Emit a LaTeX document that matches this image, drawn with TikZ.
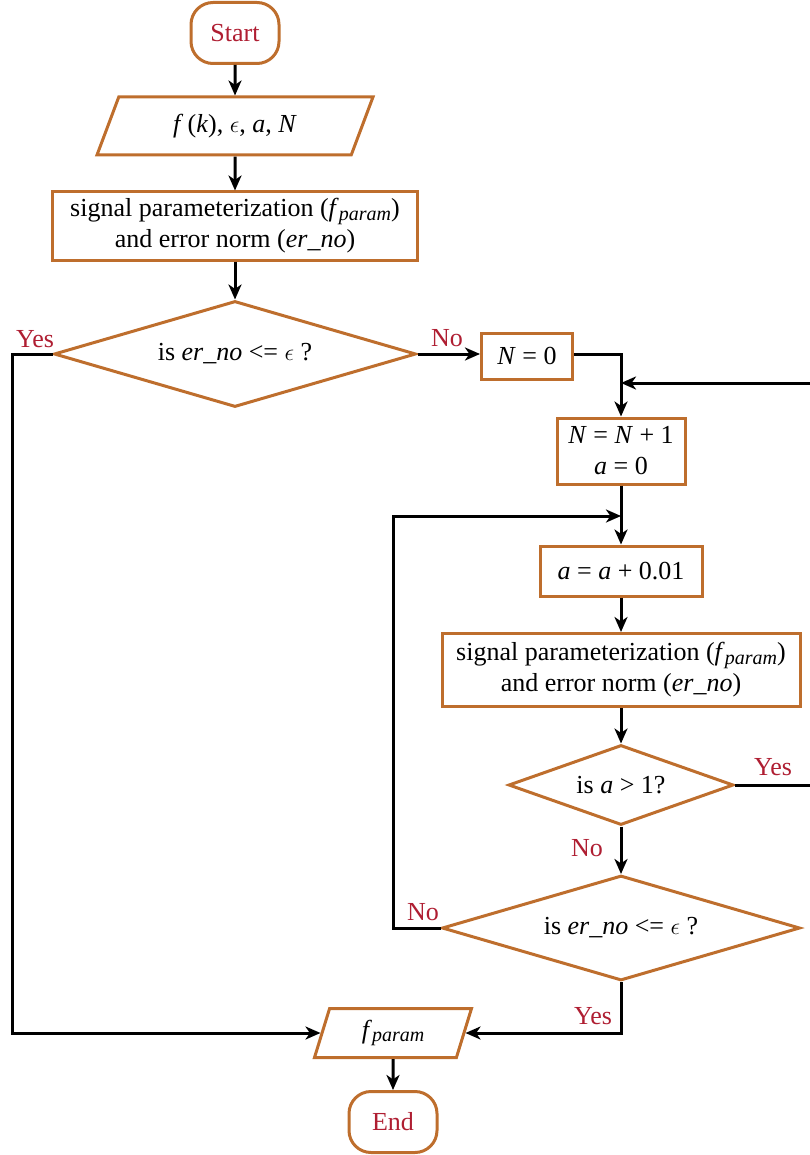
\documentclass[tikz,border=0pt]{standalone}
\usepackage{fontspec}
\setmainfont{Liberation Serif}
\usepackage{tikz}
\usetikzlibrary{calc}
\usetikzlibrary{arrows,arrows.meta}
\usetikzlibrary{shapes}

\definecolor{boxcol}{RGB}{190,110,45}
\definecolor{labelcol}{RGB}{175,30,50}
\newcommand{\erno}{\textit{er\_no}}
\newcommand{\fpar}{\textit{f}\raisebox{-0.3ex}{\fontsize{10}{12}\selectfont\textit{param}}}

\begin{document}
\begin{tikzpicture}[>={Stealth[length=7.5pt,width=6.5pt,inset=2.2pt]},line join=miter,x=0.5pt,y=-0.5pt,
    every node/.style={font=\fontsize{13}{15.5}\selectfont},
    terminal/.style={draw=boxcol,line width=1.5pt,rounded corners=11pt,minimum width=44pt,minimum height=30.5pt,text=labelcol,inner sep=0pt},
    procbox/.style={draw=boxcol,line width=1.5pt,rectangle,align=center,inner sep=0pt},
    iobox/.style={draw=boxcol,line width=1.5pt,trapezium,trapezium stretches body,inner sep=0pt},
    decbox/.style={draw=boxcol,line width=1.5pt,diamond,aspect=3.4,inner sep=0pt},
    flow/.style={draw=black,line width=1.5pt},
    answer/.style={text=labelcol}]
    \useasboundingbox (0,0) rectangle (809,1155);
    %%
    % Node: start
    \node[terminal] (start) at (235,33) {Start};
    % Node: input
    \node[iobox,trapezium left angle=47.6,trapezium right angle=132.4,minimum width=138pt,minimum height=29pt] (input) at (235,126)
        {\textit{f}\,(\textit{k}), $\epsilon$, \textit{a}, \textit{N}};
    % Node: param1
    \node[procbox,minimum width=182.5pt,minimum height=34pt] (param1) at (235,226)
        {signal parameterization (\fpar)\\and error norm (\erno)};
    % Node: check1
    \node[decbox,minimum width=181pt,minimum height=53pt] (check1) at (235,354) {is \erno{} <= $\epsilon$ ?};
    % Node: nzero
    \node[procbox,minimum width=45.5pt,minimum height=23pt] (nzero) at (527,356) {\textit{N} = 0};
    % Node: nstep
    \node[procbox,minimum width=64pt,minimum height=33pt] (nstep) at (621,451) {\textit{N} = \textit{N} + 1\\\textit{a} = 0};
    % Node: astep
    \node[procbox,minimum width=81pt,minimum height=25pt] (astep) at (621,571) {\textit{a} = \textit{a} + 0.01};
    % Node: param2
    \node[procbox,minimum width=179pt,minimum height=36.5pt] (param2) at (621,670)
        {signal parameterization (\fpar)\\and error norm (\erno)};
    % Node: check2
    \node[decbox,minimum width=112.5pt,minimum height=40pt] (check2) at (621,785) {is \textit{a} > 1?};
    % Node: check3
    \node[decbox,minimum width=179pt,minimum height=52.5pt] (check3) at (621,928) {is \erno{} <= $\epsilon$ ?};
    % Node: output
    \node[iobox,trapezium left angle=60,trapezium right angle=120,minimum width=78.5pt,minimum height=24.5pt] (output) at (393,1033) {\fpar};
    % Node: finish
    \node[terminal] (finish) at (393,1122) {End};
    %
    \coordinate (yesleft) at (12,1033);
    \coordinate (mergeN) at (621,383);
    \coordinate (loopright) at (816,383);
    \coordinate (mergeA) at (621,516);
    \coordinate (loopleft) at (393,516);
    % Edge: start -> input -> param1 -> check1
    \draw[flow,->] (start) -- (input);
    \draw[flow,->] (input) -- (param1);
    \draw[flow,->] (param1) -- (check1);
    % Edge: check1 -> nzero (No)
    \draw[flow,->] (check1.east) -- (check1.east -| nzero.west);
    % Edge: nzero -> nstep
    \draw[flow,->] (nzero.east |- check1.east) -| (nstep.north);
    % Edge: check2 -> nstep (Yes)
    \draw[flow,->] (check2.east) -| (loopright) -- (mergeN);
    % Edge: nstep -> astep
    \draw[flow,->] (nstep) -- (astep);
    % Edge: check3 -> astep (No)
    \draw[flow,->] (check3.west) -| (loopleft) -- (mergeA);
    % Edge: astep -> param2 -> check2 -> check3
    \draw[flow,->] (astep) -- (param2);
    \draw[flow,->] (param2) -- (check2);
    \draw[flow,->] (check2) -- (check3);
    % Edge: check3 -> output (Yes)
    \draw[flow,->] (check3.south) |- (output.east);
    % Edge: check1 -> output (Yes)
    \draw[flow,->] (check1.west) -| (yesleft) -- (output.west);
    % Edge: output -> finish
    \draw[flow,->] (output) -- (finish);
    % Labels
    \node[answer] (yes1) at (35,339) {Yes};
    \node[answer] (no1) at (447,338) {No};
    \node[answer] (yes2) at (773,767) {Yes};
    \node[answer] (no2) at (587,848) {No};
    \node[answer] (no3) at (423,912) {No};
    \node[answer] (yes3) at (593,1016) {Yes};
    %
\end{tikzpicture}
\end{document}
